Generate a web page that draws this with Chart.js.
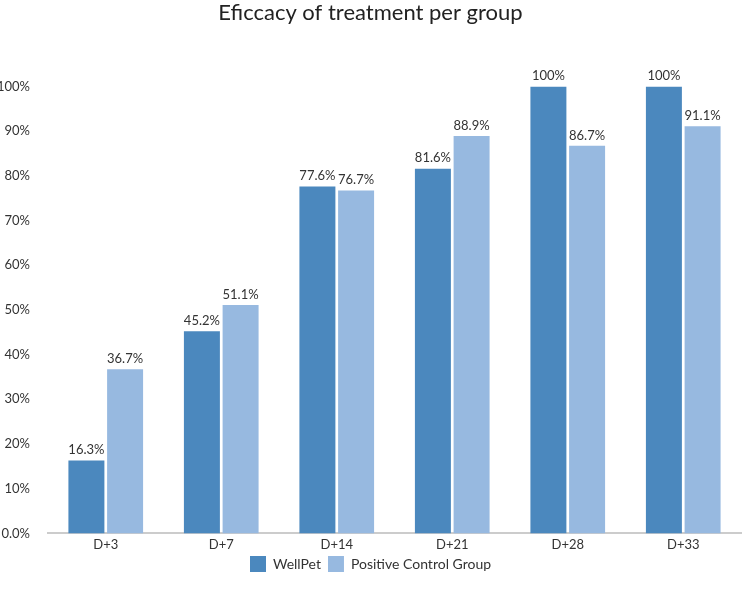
<!DOCTYPE html>
<html lang="en">
<head>
  <meta charset="UTF-8" />
  <title>Eficcacy of treatment per group</title>
  <script src="https://cdn.jsdelivr.net/npm/chart.js"></script>
  <style>
    body { margin: 0; background: #fff; }
    #wrap { width: 749px; height: 602px; }
  </style>
</head>
<body>
  <div id="wrap"><canvas id="chart"></canvas></div>
  <script>
    const days = ['D+3', 'D+7', 'D+14', 'D+21', 'D+28', 'D+33'];
    const wellPet = [16.3, 45.2, 77.6, 81.6, 100, 100];
    const positiveControl = [36.7, 51.1, 76.7, 88.9, 86.7, 91.1];
    const seriesNames = ['WellPet', 'Positive Control Group'];
    const seriesColors = ['#4b88be', '#97b9e0'];

    const fontFamily = "Lato, 'Noto Sans', sans-serif";

    // labels above each bar
    const valueLabels = {
      id: 'valueLabels',
      afterDatasetsDraw(chart) {
        const ctx = chart.ctx;
        ctx.save();
        ctx.font = '13px ' + fontFamily;
        ctx.fillStyle = '#333';
        ctx.textAlign = 'center';
        ctx.textBaseline = 'bottom';
        chart.data.datasets.forEach((ds, i) => {
          chart.getDatasetMeta(i).data.forEach((bar, j) => {
            ctx.fillText(ds.data[j] + '%', bar.x, bar.y - 4);
          });
        });
        ctx.restore();
      }
    };

    new Chart(document.getElementById('chart'), {
      type: 'bar',
      data: {
        labels: days,
        datasets: [
          { label: seriesNames[0], data: wellPet, backgroundColor: seriesColors[0] },
          { label: seriesNames[1], data: positiveControl, backgroundColor: seriesColors[1] }
        ]
      },
      options: {
        responsive: true,
        maintainAspectRatio: false,
        animation: false,
        categoryPercentage: 0.67,
        barPercentage: 0.93,
        layout: { padding: { top: 0, right: 8, bottom: 20, left: 0 } },
        plugins: {
          title: {
            display: true,
            text: 'Eficcacy of treatment per group',
            color: '#222',
            font: { family: fontFamily, size: 22, weight: 'normal' },
            padding: { top: 0, bottom: 60 }
          },
          legend: {
            position: 'bottom',
            labels: {
              color: '#333',
              font: { family: fontFamily, size: 14 },
              boxWidth: 16,
              boxHeight: 16,
              padding: 7
            }
          },
          tooltip: { enabled: false }
        },
        scales: {
          x: {
            grid: { display: false },
            border: { color: '#cccccc', width: 2 },
            ticks: { color: '#333', font: { family: fontFamily, size: 13 }, padding: -4 }
          },
          y: {
            min: 0,
            max: 100,
            afterFit(scale) { scale.width = 48; },
            grid: { display: false },
            border: { display: false },
            ticks: {
              stepSize: 10,
              color: '#333',
              font: { family: fontFamily, size: 13 },
              padding: 10,
              callback: v => v === 0 ? '0.0%' : v + '%'
            }
          }
        }
      },
      plugins: [valueLabels]
    });
  </script>
</body>
</html>
